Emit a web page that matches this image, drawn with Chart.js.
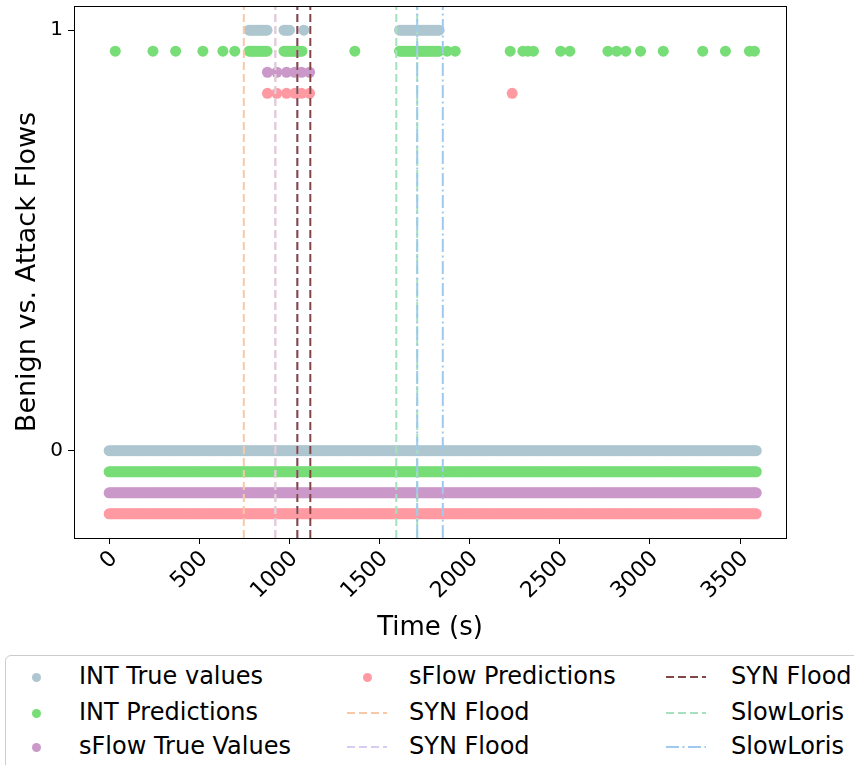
<!DOCTYPE html>
<html><head><meta charset="utf-8">
<script src="https://cdn.jsdelivr.net/npm/chart.js@4.4.1/dist/chart.umd.min.js"></script>
<style>
html,body{margin:0;padding:0;background:#fff;}
#wrap{position:relative;width:854px;height:765px;overflow:hidden;font-family:"DejaVu Sans",sans-serif;}
#c{position:absolute;left:0;top:0;}
#legend{position:absolute;left:5px;top:655px;width:870px;height:140px;border:1.5px solid #cccccc;border-radius:6px;box-sizing:border-box;}
.it{position:absolute;font-size:24px;line-height:24px;color:#000;white-space:nowrap;}
.mk{position:absolute;}
</style></head>
<body><div id="wrap"><canvas id="c" width="854" height="650"></canvas><div id="legend"></div></div>
<script>
// ---- data (time in seconds) ----
const xTickValues = [0, 500, 1000, 1500, 2000, 2500, 3000, 3500];
const yTickValues = [0, 1];
const sampleStep = 10;           // sampling interval of the flow series
const timeRange = [0, 3590];     // first and last sample
const seriesNames = ["INT True values", "INT Predictions", "sFlow True Values", "sFlow Predictions"];
const seriesOffsets = [0, -0.05, -0.10, -0.15];
const intTrueAttackRuns = [[776, 880], [970, 1001], [1611, 1833]];
const intTrueAttackPoints = [1080];
const intPredAttackRuns = [[776, 880], [970, 1075], [1611, 1833]];
const intPredAttackPoints = [34, 243, 369, 520, 631, 697, 1363, 1875, 1920, 2225, 2295, 2323, 2354, 2505, 2556, 2767, 2816, 2866, 2948, 3074, 3293, 3419, 3552, 3580];
const sflowTrueAttackRuns = [];
const sflowTrueAttackPoints = [878, 930, 984, 1030, 1067, 1112];
const sflowPredAttackRuns = [];
const sflowPredAttackPoints = [878, 930, 984, 1030, 1067, 1112, 2236];
const attackNames = ["SYN Flood", "SYN Flood", "SYN Flood", "SlowLoris", "SlowLoris"];
const attackBounds = [[747, 922], [922, 1044], [1044, 1116], [1593, 1709], [1709, 1851]];

// ---- styles ----
const dotColors = ["#aec6cf", "#77dd77", "#cb99c9", "#ff9aa2"];
const lineColors = ["#f8c9a6", "#d8cdf0", "#854646", "#a3e2bb", "#9fc9ee"];
const lineDashes = [[8, 4], [8, 4], [8, 4], [8, 4], [13, 3.5, 2, 3.5]];
const Y_MIN = -0.2075, Y_MAX = 1.0575;
const X_MIN = -195, X_MAX = 3755;

function expand(runs, pts) {
  const out = [];
  runs.forEach(r => { for (let t = r[0]; t <= r[1]; t += sampleStep) out.push(t); });
  return out.concat(pts);
}
function benignTimes() {
  const out = [];
  for (let t = timeRange[0]; t <= timeRange[1]; t += sampleStep) out.push(t);
  return out;
}
const attackTimes = [
  expand(intTrueAttackRuns, intTrueAttackPoints),
  expand(intPredAttackRuns, intPredAttackPoints),
  expand(sflowTrueAttackRuns, sflowTrueAttackPoints),
  expand(sflowPredAttackRuns, sflowPredAttackPoints)
];
const datasets = [];
seriesNames.forEach((name, i) => {
  const pts = benignTimes().map(t => ({x: t, y: 0 + seriesOffsets[i]}))
    .concat(attackTimes[i].map(t => ({x: t, y: 1 + seriesOffsets[i]})));
  datasets.push({type: 'scatter', label: name, data: pts, order: 10 - i,
    backgroundColor: dotColors[i], borderWidth: 0, pointRadius: 5.5, pointHoverRadius: 5.5});
});
attackNames.forEach((name, i) => {
  const b = attackBounds[i];
  datasets.push({type: 'line', label: name, order: -i,
    data: [{x: b[0], y: Y_MIN}, {x: b[0], y: Y_MAX}, {x: b[0], y: null}, {x: b[1], y: Y_MIN}, {x: b[1], y: Y_MAX}],
    borderColor: lineColors[i], borderWidth: 2, borderDash: lineDashes[i], pointRadius: 0, spanGaps: false, fill: false});
});

const framePlugin = {
  id: 'frame',
  afterDatasetsDraw(chart) {
    const a = chart.chartArea, c = chart.ctx;
    c.save(); c.strokeStyle = '#000'; c.lineWidth = 1;
    c.strokeRect(Math.round(a.left) + 0.5, Math.round(a.top) + 0.5, Math.round(a.right - a.left), Math.round(a.bottom - a.top));
    c.restore();
  }
};

new Chart(document.getElementById('c'), {
  type: 'scatter',
  data: {datasets},
  options: {
    responsive: false, animation: false, events: [],
    layout: {padding: {left: 0, right: 68, top: 6, bottom: 0}},
    plugins: {legend: {display: false}, tooltip: {enabled: false}},
    scales: {
      x: {type: 'linear', min: X_MIN, max: X_MAX,
        afterBuildTicks: s => { s.ticks = xTickValues.map(v => ({value: v})); },
        afterFit: s => { s.height = 650 - 538; s.paddingLeft = 0; s.paddingRight = 0; },
        grid: {display: true, drawOnChartArea: false, drawTicks: true, tickLength: 6, color: '#000', tickWidth: 1},
        border: {display: true, color: '#000', width: 1},
        ticks: {color: '#000', font: {family: 'DejaVu Sans', size: 22}, minRotation: 45, maxRotation: 45, padding: 2, labelOffset: 5, autoSkip: false,
          callback: v => String(v)},
        title: {display: true, text: 'Time (s)', color: '#000', font: {family: 'DejaVu Sans', size: 26}, padding: {top: 0, bottom: 6}}
      },
      y: {type: 'linear', min: Y_MIN, max: Y_MAX,
        afterBuildTicks: s => { s.ticks = yTickValues.map(v => ({value: v})); },
        afterFit: s => { s.width = 74; s.paddingTop = 0; s.paddingBottom = 0; },
        grid: {display: true, drawOnChartArea: false, drawTicks: true, tickLength: 6, color: '#000', tickWidth: 1},
        border: {display: true, color: '#000', width: 1},
        ticks: {color: '#000', font: {family: 'DejaVu Sans', size: 20}, padding: 5, callback: v => String(v)},
        title: {display: true, text: 'Benign vs. Attack Flows', color: '#000', font: {family: 'DejaVu Sans', size: 27}, padding: {top: 12, bottom: 0}}
      }
    }
  },
  plugins: [framePlugin]
});

// ---- legend (matplotlib style, 3 columns, column-major) ----
const legendEntries = [];
seriesNames.forEach((n, i) => legendEntries.push({kind: 'dot', color: dotColors[i], label: n}));
attackNames.forEach((n, i) => legendEntries.push({kind: 'line', color: lineColors[i], dash: lineDashes[i], label: n}));
const colMarkerX = [30, 361, 680];   // marker centre, relative to legend box
const colTextX = [73, 403, 725];
const rowY = [21, 57, 91];
const lg = document.getElementById('legend');
legendEntries.forEach((e, k) => {
  const col = Math.floor(k / 3), row = k % 3;
  const mx = colMarkerX[col], my = rowY[row];
  let mk;
  if (e.kind === 'dot') {
    mk = document.createElement('div'); mk.className = 'mk';
    mk.style.cssText = `left:${mx - 4.5}px;top:${my - 4.5}px;width:9px;height:9px;border-radius:50%;background:${e.color};`;
  } else {
    mk = document.createElementNS('http://www.w3.org/2000/svg', 'svg');
    mk.setAttribute('width', 40); mk.setAttribute('height', 6);
    mk.style.cssText = `position:absolute;left:${mx - 20}px;top:${my - 3}px;`;
    const ln = document.createElementNS('http://www.w3.org/2000/svg', 'line');
    ln.setAttribute('x1', 0); ln.setAttribute('y1', 3); ln.setAttribute('x2', 40); ln.setAttribute('y2', 3);
    ln.setAttribute('stroke', e.color); ln.setAttribute('stroke-width', 2);
    ln.setAttribute('stroke-dasharray', e.dash.join(' '));
    mk.appendChild(ln);
  }
  lg.appendChild(mk);
  const tx = document.createElement('div'); tx.className = 'it';
  tx.style.left = colTextX[col] + 'px'; tx.style.top = (my - 13) + 'px';
  tx.textContent = e.label;
  lg.appendChild(tx);
});
</script></body></html>
